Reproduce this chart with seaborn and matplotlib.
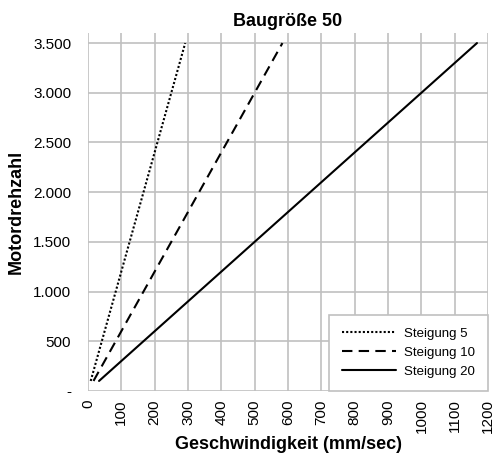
import seaborn as sns
import matplotlib.pyplot as plt
import pandas as pd

rpm = [100, 3500]
speed_5 = [8.3, 291.7]
speed_10 = [16.7, 583.3]
speed_20 = [33.3, 1166.7]
labels = ['Steigung 5', 'Steigung 10', 'Steigung 20']
styles = [(0, (1, 1)), (0, (5, 3)), '-']

sns.set_style('white')
plt.rcParams['font.family'] = ['Liberation Sans', 'DejaVu Sans']
plt.rcParams['text.color'] = 'black'
plt.rcParams['axes.labelcolor'] = 'black'

fig, ax = plt.subplots(figsize=(4.94, 4.54), dpi=100)
fig.subplots_adjust(left=0.178, right=0.988, bottom=0.139, top=0.927)

for sp, lab, ls in zip([speed_5, speed_10, speed_20], labels, styles):
    df = pd.DataFrame({'x': sp, 'y': rpm})
    sns.lineplot(data=df, x='x', y='y', ax=ax, color='black', linestyle=ls,
                 linewidth=1.5, label=lab)

grid_col = '#c0c0c0'
ax.set_xlim(0, 1200)
ax.set_ylim(0, 3600)
ax.set_xticks(range(0, 1201, 100))
ax.set_yticks(range(0, 3501, 500))
ax.set_yticklabels(['-' if v == 0 else f'{v:,}'.replace(',', '.') for v in range(0, 3501, 500)])
ax.tick_params(axis='x', rotation=90, labelsize=11, length=4, pad=2,
               color=grid_col, labelcolor='black', width=1.2)
ax.tick_params(axis='y', labelsize=11, length=11, pad=1,
               color=grid_col, labelcolor='black', width=1.2)
ax.grid(True, color=grid_col, linewidth=1.2)
for s in ax.spines.values():
    s.set_visible(False)

ax.set_title('Baugröße 50', fontsize=13, fontweight='bold', pad=5, color='black')
ax.set_xlabel('Geschwindigkeit (mm/sec)', fontsize=13, fontweight='bold', labelpad=2)
ax.set_ylabel('Motordrehzahl', fontsize=13, fontweight='bold', labelpad=6)

leg = ax.legend(loc='lower right', bbox_to_anchor=(1, 0), fontsize=9.5,
                frameon=True, fancybox=False, edgecolor=grid_col, framealpha=1,
                handlelength=4.1, handletextpad=0.6, borderpad=1.0,
                borderaxespad=0, labelcolor='black')
leg.get_frame().set_linewidth(1.2)

plt.savefig('out.png', dpi=100)
